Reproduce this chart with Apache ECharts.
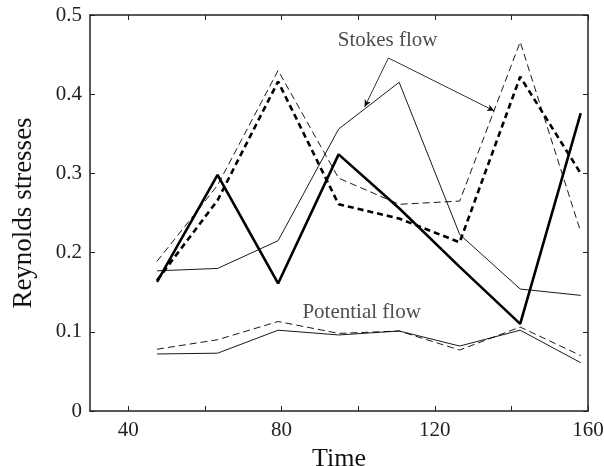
<!DOCTYPE html>
<html>
<head>
<meta charset="utf-8">
<script src="https://cdn.jsdelivr.net/npm/echarts@6/dist/echarts.min.js"></script>
<style>
  html, body { margin: 0; padding: 0; background: #fff; }
  #chart { width: 604px; height: 466px; }
</style>
</head>
<body>
<div id="chart"></div>
<script>
// Sampling times shared by every curve
const timeValues = [47.5, 63.3, 79.1, 94.9, 110.7, 126.5, 142.3, 158.1];

// Stokes-flow Reynolds stresses
const stokesThick       = [0.163, 0.298, 0.161, 0.324, 0.256, 0.182, 0.110, 0.376];
const stokesThickDashed = [0.165, 0.266, 0.416, 0.261, 0.243, 0.213, 0.422, 0.300];
const stokesThinDashed  = [0.189, 0.285, 0.430, 0.294, 0.261, 0.265, 0.466, 0.226];
const stokesThin        = [0.177, 0.180, 0.215, 0.356, 0.415, 0.223, 0.154, 0.146];

// Potential-flow Reynolds stresses
const potentialThin   = [0.072, 0.073, 0.102, 0.096, 0.101, 0.082, 0.102, 0.061];
const potentialDashed = [0.078, 0.090, 0.113, 0.098, 0.101, 0.077, 0.106, 0.070];

// Axis ticks and labels
const xTickValues  = [40, 60, 80, 100, 120, 140, 160];
const xLabelValues = [40, 80, 120, 160];

// Curve annotations: label anchor and the arrows drawn from it
const stokesLabelPos    = [107.7, 0.468];
const potentialLabelPos = [100.9, 0.125];
const stokesArrowFrom   = [107.9, 0.4457];
const stokesArrowTo     = [[101.7, 0.384], [135.5, 0.379]];

const FONT = '"Liberation Serif", "DejaVu Serif", serif';
const INK = '#000';
const AXIS = '#222';

function pairs(ys) {
  return timeValues.map((t, i) => [t, ys[i]]);
}

function lineSeries(name, ys, width, dashed) {
  return {
    name: name,
    type: 'line',
    data: pairs(ys),
    symbol: 'none',
    silent: true,
    lineStyle: {
      color: INK,
      width: width,
      type: dashed ? (width > 2 ? [6, 4] : [7, 4]) : 'solid'
    },
    z: width > 2 ? 4 : 3
  };
}

const chart = echarts.init(document.getElementById('chart'), null, { renderer: 'canvas' });

const baseX = {
  type: 'value',
  min: 30,
  max: 160,
  splitLine: { show: false },
  axisLine: { show: true, onZero: false, lineStyle: { color: AXIS, width: 1.5 } },
  axisTick: { show: true, inside: true, length: 5, customValues: xTickValues, lineStyle: { color: AXIS, width: 1 } }
};

const baseY = {
  type: 'value',
  min: 0,
  max: 0.5,
  interval: 0.1,
  splitLine: { show: false },
  axisLine: { show: true, onZero: false, lineStyle: { color: AXIS, width: 1.5 } },
  axisTick: { show: true, inside: true, length: 5, lineStyle: { color: AXIS, width: 1 } }
};

chart.setOption({
  animation: false,
  backgroundColor: '#fff',
  grid: { left: 90, right: 16, top: 15, bottom: 55, containLabel: false, outerBoundsMode: 'none' },
  xAxis: [
    Object.assign({}, baseX, {
      position: 'bottom',
      name: 'Time',
      nameLocation: 'middle',
      nameGap: 24,
      nameTextStyle: { fontFamily: FONT, fontSize: 26, color: '#111' },
      axisLabel: {
        show: true,
        customValues: xLabelValues,
        margin: 9,
        fontFamily: FONT,
        fontSize: 21,
        color: '#222'
      }
    }),
    Object.assign({}, baseX, {
      position: 'top',
      axisLabel: { show: false }
    })
  ],
  yAxis: [
    Object.assign({}, baseY, {
      position: 'left',
      name: 'Reynolds stresses',
      nameLocation: 'middle',
      nameGap: 53,
      nameTextStyle: { fontFamily: FONT, fontSize: 27, color: '#111' },
      axisLabel: {
        show: true,
        margin: 8,
        fontFamily: FONT,
        fontSize: 21,
        color: '#222',
        formatter: v => String(Math.round(v * 10) / 10)
      }
    }),
    Object.assign({}, baseY, {
      position: 'right',
      axisLabel: { show: false }
    })
  ],
  series: [
    lineSeries('Stokes thick', stokesThick, 2.6, false),
    lineSeries('Stokes thick dashed', stokesThickDashed, 2.6, true),
    lineSeries('Stokes thin dashed', stokesThinDashed, 0.9, true),
    Object.assign(lineSeries('Stokes thin', stokesThin, 0.9, false), {
      markLine: {
        silent: true,
        symbol: ['none', 'arrow'],
        symbolSize: [5, 7],
        label: { show: false },
        lineStyle: { color: INK, width: 0.8, type: 'solid' },
        data: stokesArrowTo.map(p => [
          { coord: stokesArrowFrom },
          { coord: p }
        ])
      }
    }),
    lineSeries('Potential thin', potentialThin, 0.9, false),
    lineSeries('Potential dashed', potentialDashed, 0.9, true),
    {
      name: 'Labels',
      type: 'scatter',
      symbolSize: 0,
      silent: true,
      data: [
        { name: 'Stokes flow', value: stokesLabelPos },
        { name: 'Potential flow', value: potentialLabelPos }
      ],
      label: {
        show: true,
        position: 'inside',
        formatter: '{b}',
        fontFamily: FONT,
        fontSize: 21,
        color: '#222'
      }
    }
  ]
});
</script>
</body>
</html>
